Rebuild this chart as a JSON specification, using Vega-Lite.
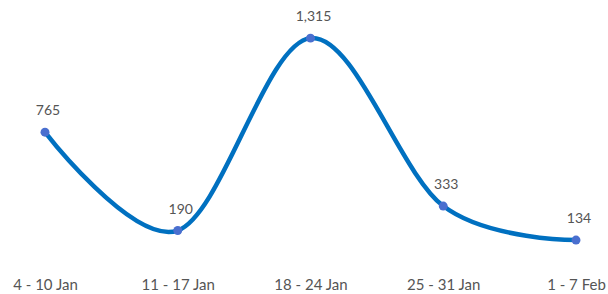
{
  "$schema": "https://vega.github.io/schema/vega-lite/v6.json",
  "autosize": "none",
  "padding": {"top": 0, "left": 0, "right": 0, "bottom": 31},
  "width": 608,
  "height": 263,
  "background": "white",
  "config": {"view": {"stroke": null}, "font": "Lato"},
  "data": {"values": [
    {"week": "4 - 10 Jan", "value": 765},
    {"week": "11 - 17 Jan", "value": 190},
    {"week": "18 - 24 Jan", "value": 1315},
    {"week": "25 - 31 Jan", "value": 333},
    {"week": "1 - 7 Feb", "value": 134}
  ]},
  "encoding": {
    "x": {"field": "week", "type": "ordinal", "sort": null,
      "scale": {"type": "point", "range": [45, 576], "padding": 0},
      "axis": {"title": null, "domain": false, "ticks": false, "grid": false, "labelAngle": 0, "labelFontSize": 15, "labelColor": "#555555", "labelPadding": 14}},
    "y": {"field": "value", "type": "quantitative", "scale": {"domain": [0, 1538]}, "axis": null}
  },
  "layer": [
    {"mark": {"type": "line", "interpolate": "cardinal", "tension": 0, "color": "#0070C0", "strokeWidth": 4.5}},
    {"mark": {"type": "point", "filled": true, "opacity": 1, "color": "#4A6FCF", "size": 80}},
    {"mark": {"type": "text", "dy": -21, "dx": 3, "fontSize": 14, "color": "#555555"},
     "encoding": {"text": {"field": "value", "type": "quantitative", "format": ","}}}
  ]
}
